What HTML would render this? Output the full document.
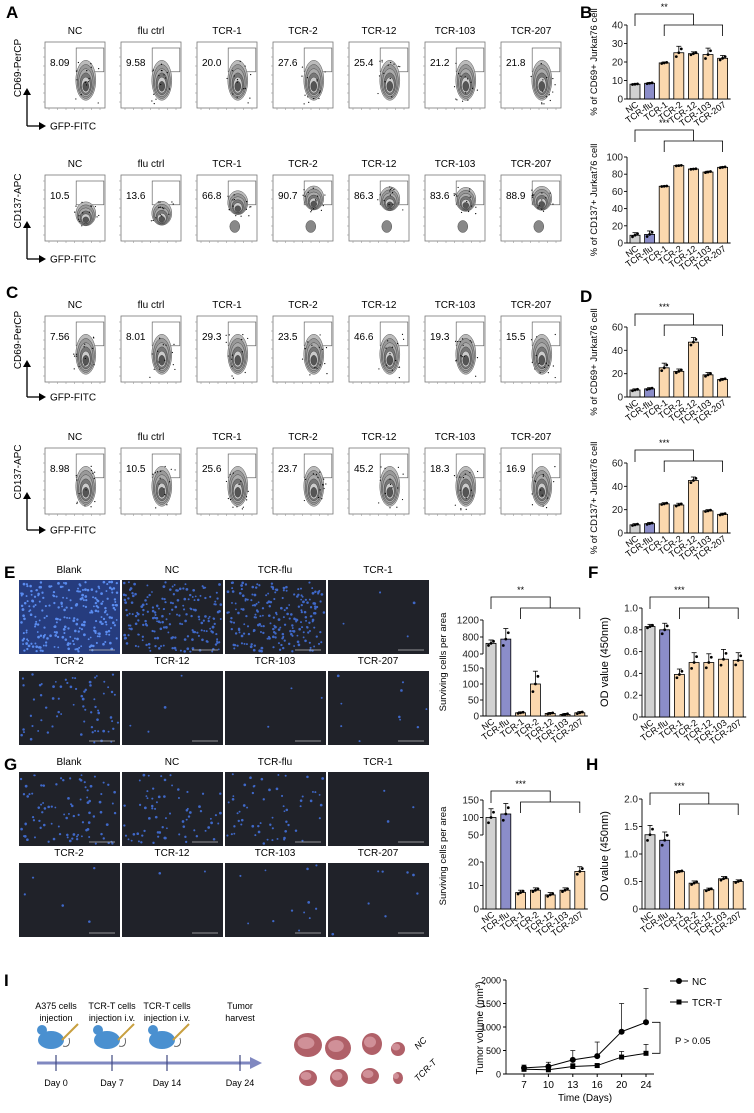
<!DOCTYPE html>
<html><head><meta charset="utf-8"><style>
html,body{margin:0;padding:0;background:#fff;}
svg{display:block;font-family:"Liberation Sans",sans-serif;}
</style></head><body>
<svg id="fig" width="754" height="1113" viewBox="0 0 754 1113" xmlns="http://www.w3.org/2000/svg"></svg>
<script>
// ---------- data ----------
const groups = ["NC","TCR-flu","TCR-1","TCR-2","TCR-12","TCR-103","TCR-207"];
const flowTitles = ["NC","flu ctrl","TCR-1","TCR-2","TCR-12","TCR-103","TCR-207"];
const flowA1 = ["8.09","9.58","20.0","27.6","25.4","21.2","21.8"];
const flowA2 = ["10.5","13.6","66.8","90.7","86.3","83.6","88.9"];
const flowC1 = ["7.56","8.01","29.3","23.5","46.6","19.3","15.5"];
const flowC2 = ["8.98","10.5","25.6","23.7","45.2","18.3","16.9"];
const b1Vals = [8, 8.5, 19.5, 25, 24.5, 24, 22];
const b1Errs = [0.3, 0.4, 0.5, 3.5, 1, 3.5, 1.5];
const b2Vals = [9, 10, 66, 90, 86, 82.5, 88];
const b2Errs = [3, 4, 0.5, 0.5, 0.5, 1, 0.8];
const d1Vals = [6, 7, 25, 22, 47, 19, 15];
const d1Errs = [1, 1, 4, 2, 4, 2, 1];
const d2Vals = [7, 8, 25, 24, 45, 19, 16];
const d2Errs = [1, 1, 1, 1.5, 3, 1, 1];
const eVals = [650, 750, 10, 100, 8, 5, 10];
const eErrs = [80, 250, 3, 40, 3, 3, 4];
const fVals = [0.83, 0.80, 0.39, 0.50, 0.50, 0.53, 0.52];
const fErrs = [0.02, 0.06, 0.05, 0.09, 0.08, 0.09, 0.07];
const gVals = [100, 110, 7, 8, 6, 8, 16];
const gErrs = [25, 30, 1, 1, 1, 1, 2];
const hVals = [1.35, 1.25, 0.68, 0.47, 0.35, 0.55, 0.50];
const hErrs = [0.17, 0.15, 0.02, 0.04, 0.03, 0.04, 0.03];
const days = [7, 10, 13, 16, 20, 24];
const ncVol = [130, 160, 300, 380, 900, 1100];
const ncErr = [60, 90, 200, 300, 600, 720];
const tcrVol = [100, 90, 160, 180, 360, 440];
const tcrErr = [40, 40, 60, 30, 120, 190];
const volTicks = [0, 500, 1000, 1500, 2000];

const NS = "http://www.w3.org/2000/svg";
const svg = document.getElementById("fig");
function el(tag, attrs, parent, text){
  const e = document.createElementNS(NS, tag);
  for (const k in attrs) e.setAttribute(k, attrs[k]);
  if (text !== undefined) e.textContent = text;
  (parent || svg).appendChild(e);
  return e;
}
function grp(name, parent){
  const g = document.createElementNS(NS, "g");
  
  
  (parent || svg).appendChild(g);
  return g;
}
function label(t, x, y){
  const e = el("text", {x:x, y:y, "font-size":17, "font-weight":"bold"}, svg, t);
  
  
}
let seed = 7;
function rnd(){ seed = (seed * 9301 + 49297) % 233280; return seed / 233280; }

// ---------- flow plots ----------
const colX = [45,121,197,273,349,425,501];
function flowRow(name, titleY, boxY, nums, high){
  const g = grp(name);
  for (let i=0;i<7;i++){
    const x = colX[i], w = 60, h = 66;
    const c = grp("flow-plot-" + flowTitles[i].toLowerCase().replace(/ /g,'-'), g);
    el("text",{x:x+w/2,y:titleY,"font-size":10,"text-anchor":"middle"},c,flowTitles[i]);
    el("rect",{x:x,y:boxY,width:w,height:h,fill:"#fff",stroke:"#777","stroke-width":0.8},c);
    for (let k=0;k<7;k++){
      el("line",{x1:x+4+k*8.5,y1:boxY+h,x2:x+4+k*8.5,y2:boxY+h+2,stroke:"#999","stroke-width":0.6},c);
      el("line",{x1:x-2,y1:boxY+6+k*9,x2:x,y2:boxY+6+k*9,stroke:"#999","stroke-width":0.6},c);
    }
    el("rect",{x:x+w*0.52,y:boxY+6,width:w*0.46,height:h*0.36,fill:"none",stroke:"#666","stroke-width":0.7},c);
    el("text",{x:x+5,y:boxY+24,"font-size":10},c,nums[i]);
    const p = parseFloat(nums[i]);
    const cx = x + w*0.68, cy = high ? boxY + h*(0.62 - 0.3*p/100) : boxY + h*0.58;
    const rx = 10, ry = high ? 12 : 20;
    const shades = ["#bbb","#999","#aaa","#777","#ccc","#555"];
    for (let r=0;r<6;r++){
      el("ellipse",{cx:cx,cy:cy+r*1.2,rx:rx*(1-r*0.14),ry:ry*(1-r*0.15),fill:shades[r],stroke:"#333","stroke-width":0.4},c);
    }
    if (high && p > 50) el("ellipse",{cx:cx-3,cy:boxY+h*0.78,rx:5,ry:6,fill:"#888",stroke:"#333","stroke-width":0.4},c);
    for (let d=0; d<14; d++){
      el("circle",{cx:cx-12+rnd()*26,cy:cy-ry+rnd()*ry*2.2,r:0.6,fill:"#000"},c);
    }
  }
}
function axisArrow(name, yLabel, topY, baseY){
  const g = grp(name);
  el("line",{x1:27,y1:baseY,x2:27,y2:topY+6,stroke:"#000","stroke-width":1.3},g);
  el("polygon",{points:`23,${topY+7} 31,${topY+7} 27,${topY}`,fill:"#000"},g);
  el("line",{x1:27,y1:baseY,x2:40,y2:baseY,stroke:"#000","stroke-width":1.3},g);
  el("polygon",{points:`39,${baseY-4} 39,${baseY+4} 46,${baseY}`,fill:"#000"},g);
  el("text",{x:50,y:baseY+3.5,"font-size":10},g,"GFP-FITC");
  el("text",{x:0,y:0,"font-size":10,"text-anchor":"middle",transform:`translate(21,${topY-20}) rotate(-90)`},g,yLabel);
}
label("A",6,18);
flowRow("flow-row-a-cd69",34,42,flowA1,false);
axisArrow("axis-arrow-a-cd69","CD69-PerCP",88,126);
flowRow("flow-row-a-cd137",167,175,flowA2,true);
axisArrow("axis-arrow-a-cd137","CD137-APC",221,259);
label("C",6,298);
flowRow("flow-row-c-cd69",308,316,flowC1,false);
axisArrow("axis-arrow-c-cd69","CD69-PerCP",360,397);
flowRow("flow-row-c-cd137",440,448,flowC2,false);
axisArrow("axis-arrow-c-cd137","CD137-APC",492,530);

// ---------- bar charts ----------
const barColors = ["#d2d2d2","#8b8dc9","#fbd8ae","#fbd8ae","#fbd8ae","#fbd8ae","#fbd8ae"];
function barChart(cfg){
  const g = grp(cfg.name);
  const ys = cfg.scale;
  const bx = i => cfg.x0 + 8 + i*cfg.step;
  const ax = el("g",{},g);
  cfg.axisSegs.forEach(s => el("line",{x1:cfg.x0,y1:s[0],x2:cfg.x0,y2:s[1],stroke:"#000","stroke-width":0.9},ax));
  cfg.ticks.forEach(t => {
    el("line",{x1:cfg.x0-3,y1:ys(t),x2:cfg.x0,y2:ys(t),stroke:"#000","stroke-width":0.9},ax);
    el("text",{x:cfg.x0-4,y:ys(t)+3.5,"font-size":10,"text-anchor":"end",fill:"#222"},ax,cfg.tickFmt?cfg.tickFmt(t):t);
  });
  const base = ys(0);
  el("line",{x1:cfg.x0,y1:base,x2:bx(6)+8,y2:base,stroke:"#000","stroke-width":0.9},ax);
  el("text",{x:0,y:0,"font-size":cfg.titleSize||9.5,"text-anchor":"middle",transform:`translate(${cfg.titleX},${cfg.titleY}) rotate(-90)`},g,cfg.title);
  cfg.vals.forEach((v,i)=>{
    const b = el("rect",{x:bx(i)-5,y:ys(v),width:10,height:Math.max(0,base-ys(v)),fill:barColors[i],stroke:"#000","stroke-width":0.8},g);
    
    
    const top = ys(v + cfg.errs[i]);
    el("line",{x1:bx(i),y1:ys(v),x2:bx(i),y2:top,stroke:"#000","stroke-width":0.8},g);
    el("line",{x1:bx(i)-2.5,y1:top,x2:bx(i)+2.5,y2:top,stroke:"#000","stroke-width":0.8},g);
    [-2.5,0,2.5].forEach((o,k)=>{
      const dv = v + cfg.errs[i]*(k-1)*0.6;
      el("circle",{cx:bx(i)+o,cy:ys(dv),r:1.4,fill:"#000"},g);
    });
    el("text",{x:0,y:0,"font-size":9,"text-anchor":"end",transform:`translate(${bx(i)+4},${base+7}) rotate(-35)`},g,groups[i]);
  });
  const sb = cfg.starY;
  const innerMid = (bx(2)+bx(6))/2;
  el("path",{d:`M${bx(0)},${sb+17} V${sb+5} H${innerMid} V${sb+16}`,fill:"none",stroke:"#000","stroke-width":0.8},g);
  el("path",{d:`M${bx(2)},${sb+27} V${sb+16} H${bx(6)} V${sb+27}`,fill:"none",stroke:"#000","stroke-width":0.8},g);
  el("text",{x:(bx(0)+innerMid)/2,y:sb+1,"font-size":9,"text-anchor":"middle"},g,cfg.stars);
}
function lin(d0,d1,p0,p1){ return v => p0 + (v-d0)*(p1-p0)/(d1-d0); }

label("B",580,18);
barChart({name:"chart-b-cd69",x0:627,step:14.6,scale:lin(0,40,99,25),ticks:[0,10,20,30,40],vals:b1Vals,errs:b1Errs,axisSegs:[[99,25]],starY:9,stars:"**",title:"% of CD69+ Jurkat76 cell",titleX:597,titleY:62});
barChart({name:"chart-b-cd137",x0:627,step:14.6,scale:lin(0,100,243,157),ticks:[0,20,40,60,80,100],vals:b2Vals,errs:b2Errs,axisSegs:[[243,157]],starY:125,stars:"***",title:"% of CD137+ Jurkat76 cell",titleX:597,titleY:200});
label("D",580,302);
barChart({name:"chart-d-cd69",x0:627,step:14.6,scale:lin(0,60,397,327),ticks:[0,20,40,60],vals:d1Vals,errs:d1Errs,axisSegs:[[397,327]],starY:309,stars:"***",title:"% of CD69+ Jurkat76 cell",titleX:597,titleY:362});
barChart({name:"chart-d-cd137",x0:627,step:14.6,scale:lin(0,60,533,463),ticks:[0,20,40,60],vals:d2Vals,errs:d2Errs,axisSegs:[[533,463]],starY:445,stars:"***",title:"% of CD137+ Jurkat76 cell",titleX:597,titleY:498});

function brokenE(v){ return v <= 150 ? lin(0,150,716,668)(v) : (v < 400 ? 661 : lin(400,1200,654,620)(v)); }
function brokenG(v){ return v <= 20 ? lin(0,20,909,862)(v) : (v < 50 ? 848 : lin(50,150,835,800)(v)); }

// ---------- microscopy ----------
const imgX = [19,122,225,328];
function micro(name, titles, titleY, imgY, densities){
  const g = grp(name);
  titles.forEach((t,i)=>{
    const c = grp("image-" + t.toLowerCase(), g);
    el("text",{x:imgX[i]+50,y:titleY,"font-size":10,"text-anchor":"middle"},c,t);
    el("rect",{x:imgX[i],y:imgY,width:101,height:74,fill:"#202229"},c);
    const n = densities[i];
    if (n > 300) el("rect",{x:imgX[i],y:imgY,width:101,height:74,fill:"#2c4fb8",opacity:0.6},c);
    for (let k=0;k<Math.min(n,260);k++){
      el("circle",{cx:imgX[i]+2+rnd()*97,cy:imgY+2+rnd()*70,r:0.9+rnd()*0.5,fill:n>300?"#5a8cf0":"#3f68c8"},c);
    }
    el("line",{x1:imgX[i]+70,y1:imgY+70,x2:imgX[i]+96,y2:imgY+70,stroke:"#bbb","stroke-width":0.7},c);
  });
}
label("E",4,578);
micro("images-e-row1",["Blank","NC","TCR-flu","TCR-1"],573,580,[600,200,220,4]);
micro("images-e-row2",["TCR-2","TCR-12","TCR-103","TCR-207"],664,671,[70,4,3,10]);
barChart({name:"chart-e-surviving",x0:483,step:14.8,scale:brokenE,ticks:[0,50,100,150,400,800,1200],vals:eVals,errs:eErrs,axisSegs:[[716,668],[654,620]],starY:592,stars:"**",title:"Surviving cells per area",titleX:446,titleY:662});
label("F",588,578);
barChart({name:"chart-f-od",x0:642,step:14.7,scale:lin(0,1,717,608),ticks:[0,0.2,0.4,0.6,0.8,1.0],tickFmt:t=>t===0?"0":t.toFixed(1),vals:fVals,errs:fErrs,axisSegs:[[717,608]],starY:592,stars:"***",title:"OD value (450nm)",titleX:608,titleY:662,titleSize:11});

label("G",4,770);
micro("images-g-row1",["Blank","NC","TCR-flu","TCR-1"],765,772,[90,70,60,3]);
micro("images-g-row2",["TCR-2","TCR-12","TCR-103","TCR-207"],856,863,[5,2,12,8]);
barChart({name:"chart-g-surviving",x0:483,step:14.8,scale:brokenG,ticks:[0,10,20,50,100,150],vals:gVals,errs:gErrs,axisSegs:[[909,862],[835,800]],starY:786,stars:"***",title:"Surviving cells per area",titleX:446,titleY:856});
label("H",586,770);
barChart({name:"chart-h-od",x0:642,step:14.7,scale:lin(0,2,909,799),ticks:[0,0.5,1.0,1.5,2.0],tickFmt:t=>t===0?"0":t.toFixed(1),vals:hVals,errs:hErrs,axisSegs:[[909,799]],starY:788,stars:"***",title:"OD value (450nm)",titleX:608,titleY:856,titleSize:11});

// ---------- panel I ----------
label("I",4,986);
(function(){
  const g = grp("timeline-schematic");
  const steps = [["A375 cells","injection",56,"Day 0"],["TCR-T cells","injection i.v.",112,"Day 7"],["TCR-T cells","injection i.v.",167,"Day 14"],["Tumor","harvest",240,"Day 24"]];
  el("line",{x1:37,y1:1063,x2:252,y2:1063,stroke:"#8088c0","stroke-width":3},g);
  el("polygon",{points:"250,1057 262,1063 250,1069",fill:"#8088c0"},g);
  steps.forEach((s,i)=>{
    el("text",{x:s[2],y:1009,"font-size":9,"text-anchor":"middle"},g,s[0]);
    el("text",{x:s[2],y:1021,"font-size":9,"text-anchor":"middle"},g,s[1]);
    el("line",{x1:s[2],y1:1055,x2:s[2],y2:1071,stroke:"#404880","stroke-width":1.2},g);
    el("text",{x:s[2],y:1086,"font-size":9,"text-anchor":"middle"},g,s[3]);
    if (i<3){
      const m = grp("mouse-icon", g);
      el("ellipse",{cx:s[2]-5,cy:1040,rx:13,ry:9,fill:"#4a90d0"},m);
      el("circle",{cx:s[2]-14,cy:1030,r:5,fill:"#4a90d0"},m);
      el("path",{d:`M${s[2]+7},1046 q8,2 6,-8`,stroke:"#333",fill:"none","stroke-width":0.7},m);
      el("line",{x1:s[2]+6,y1:1040,x2:s[2]+22,y2:1024,stroke:"#c8a040","stroke-width":2},m);
    }
  });
})();
(function(){
  const g = grp("tumor-photo");
  const top = [[308,1053,14,12],[338,1056,13,12],[372,1052,10,11],[398,1057,7,7]];
  const bot = [[308,1086,9,8],[339,1086,9,9],[370,1084,9,8],[398,1086,5,6]];
  top.concat(bot).forEach(t=>{
    el("ellipse",{cx:t[0],cy:t[1]-8,rx:t[2],ry:t[3],fill:"#b06068"},g);
    el("ellipse",{cx:t[0]-2,cy:t[1]-10,rx:t[2]*0.6,ry:t[3]*0.5,fill:"#d09098"},g);
  });
  el("text",{x:0,y:0,"font-size":9,"font-style":"italic",transform:"translate(418,1050) rotate(-45)"},g,"NC");
  el("text",{x:0,y:0,"font-size":9,"font-style":"italic",transform:"translate(418,1082) rotate(-45)"},g,"TCR-T");
})();
(function(){
  const g = grp("chart-i-tumor-volume");
  const x0 = 506, y = lin(0,2000,1074,980);
  const x = i => 524 + i*24.4;
  el("line",{x1:x0,y1:980,x2:x0,y2:1074,stroke:"#000","stroke-width":0.9},g);
  el("line",{x1:x0,y1:1074,x2:x(5)+8,y2:1074,stroke:"#000","stroke-width":0.9},g);
  volTicks.forEach(t=>{
    el("line",{x1:x0-3,y1:y(t),x2:x0,y2:y(t),stroke:"#000"},g);
    el("text",{x:x0-5,y:y(t)+3.5,"font-size":9,"text-anchor":"end"},g,t);
  });
  days.forEach((d,i)=>{
    el("line",{x1:x(i),y1:1074,x2:x(i),y2:1077,stroke:"#000"},g);
    el("text",{x:x(i),y:1088,"font-size":10,"text-anchor":"middle"},g,d);
  });
  el("text",{x:x(2.5),y:1101,"font-size":10,"text-anchor":"middle"},g,"Time (Days)");
  el("text",{x:0,y:0,"font-size":10,"text-anchor":"middle",transform:`translate(483,1028) rotate(-90)`},g,"Tumor volume (mm³)");
  function series(vals, errs, name, square){
    const s = grp("series-" + name, g);
    el("polyline",{points:vals.map((v,i)=>x(i)+","+y(v)).join(" "),fill:"none",stroke:"#000","stroke-width":1},s);
    vals.forEach((v,i)=>{
      el("line",{x1:x(i),y1:y(v),x2:x(i),y2:y(v+errs[i]),stroke:"#000","stroke-width":0.7},s);
      el("line",{x1:x(i)-2.5,y1:y(v+errs[i]),x2:x(i)+2.5,y2:y(v+errs[i]),stroke:"#000","stroke-width":0.7},s);
      if (square) el("rect",{x:x(i)-2.5,y:y(v)-2.5,width:5,height:5,fill:"#000"},s);
      else el("circle",{cx:x(i),cy:y(v),r:3,fill:"#000"},s);
    });
  }
  series(ncVol, ncErr, "nc", false);
  series(tcrVol, tcrErr, "tcr-t", true);
  el("path",{d:`M${x(5)+6},${y(ncVol[5])} H${x(5)+14} V${y(tcrVol[5])} H${x(5)+6}`,fill:"none",stroke:"#000","stroke-width":0.8},g);
  el("text",{x:675,y:1044,"font-size":9.5},g,"P > 0.05");
  const lg = grp("legend", g);
  el("line",{x1:670,y1:981,x2:688,y2:981,stroke:"#000"},lg);
  el("circle",{cx:679,cy:981,r:3,fill:"#000"},lg);
  el("text",{x:692,y:985,"font-size":10},lg,"NC");
  el("line",{x1:670,y1:1002,x2:688,y2:1002,stroke:"#000"},lg);
  el("rect",{x:676.5,y:999.5,width:5,height:5,fill:"#000"},lg);
  el("text",{x:692,y:1006,"font-size":10},lg,"TCR-T");
})();
</script>
</body></html>
